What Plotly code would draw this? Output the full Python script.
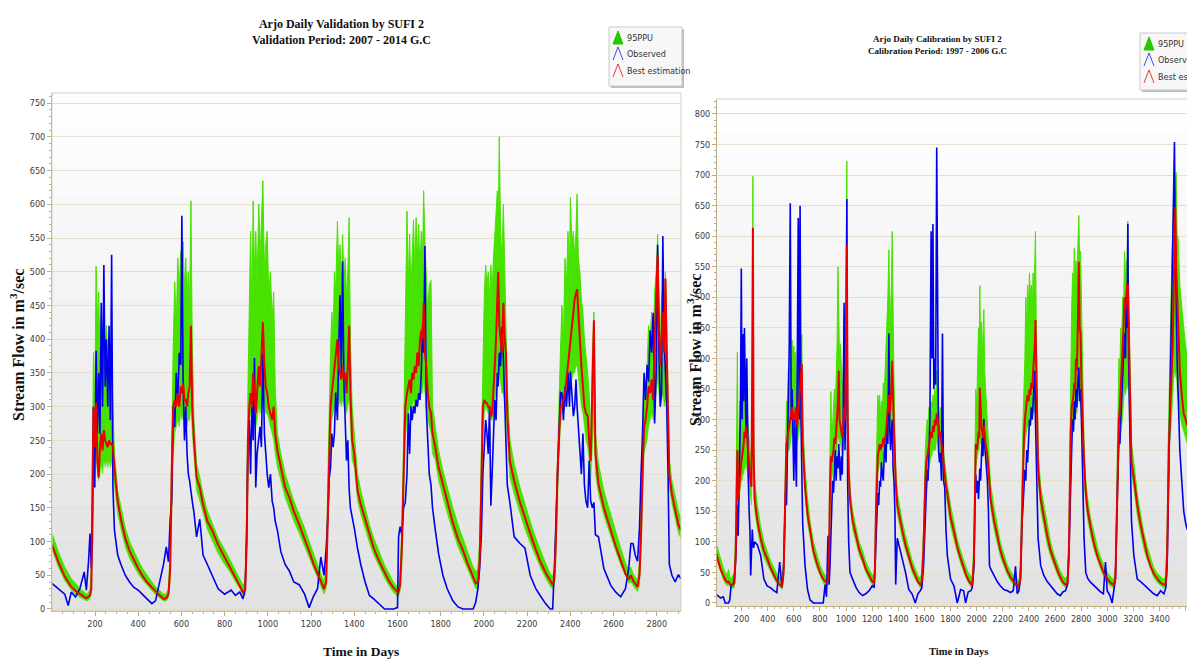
import plotly.graph_objects as go

# ---------------- Validation period 2007-2014 (daily stream flow, m3/s) ----------------
val_days = [1, 30, 60, 76, 90, 110, 130, 150, 160, 170, 177, 183, 188, 193, 199, 205, 211, 217, 223, 229,
            235, 241, 247, 253, 259, 265, 271, 277, 283, 290, 305, 320, 340, 360, 380, 400, 420, 440, 463, 480,
            500, 517, 530, 540, 548, 555, 562, 569, 576, 583, 590, 597, 602, 608, 614, 620, 626, 632, 638, 644,
            650, 658, 670, 685, 700, 720, 742, 770, 800, 830, 850, 870, 885, 895, 902, 908, 914, 920, 926, 932,
            938, 944, 950, 958, 964, 970, 977, 984, 990, 997, 1004, 1012, 1020, 1027, 1034, 1044, 1060, 1080, 1100, 1120,
            1145, 1170, 1191, 1210, 1230, 1245, 1260, 1270, 1278, 1284, 1290, 1296, 1302, 1308, 1314, 1322, 1328, 1334, 1340, 1346,
            1352, 1358, 1364, 1370, 1376, 1382, 1390, 1400, 1415, 1430, 1450, 1470, 1490, 1515, 1540, 1561, 1580, 1600, 1605, 1612,
            1620, 1628, 1636, 1644, 1650, 1656, 1662, 1668, 1674, 1680, 1686, 1692, 1698, 1704, 1710, 1716, 1721, 1727, 1733, 1740,
            1747, 1755, 1762, 1775, 1790, 1810, 1830, 1856, 1880, 1903, 1925, 1950, 1962, 1972, 1980, 1988, 1995, 2002, 2008, 2014,
            2020, 2026, 2032, 2038, 2044, 2050, 2056, 2062, 2066, 2071, 2077, 2083, 2090, 2096, 2102, 2108, 2120, 2140, 2167, 2190,
            2214, 2240, 2260, 2285, 2307, 2318, 2326, 2333, 2340, 2347, 2354, 2361, 2368, 2375, 2382, 2389, 2396, 2400, 2407, 2414,
            2420, 2426, 2431, 2437, 2444, 2451, 2458, 2465, 2472, 2480, 2487, 2494, 2502, 2509, 2516, 2530, 2555, 2587, 2610, 2633,
            2655, 2670, 2680, 2690, 2700, 2711, 2720, 2727, 2734, 2741, 2748, 2755, 2762, 2769, 2776, 2783, 2790, 2797, 2804, 2810,
            2816, 2822, 2828, 2834, 2840, 2846, 2852, 2858, 2870, 2885, 2900, 2911]
val_ppu_hi = [112, 85, 62, 52, 45, 38, 30, 25, 22, 24, 30, 60, 200, 380, 300, 508, 420, 470, 380, 430,
              360, 450, 380, 420, 360, 400, 330, 380, 300, 230, 175, 150, 120, 100, 85, 72, 60, 50, 40, 33,
              27, 22, 22, 30, 90, 250, 390, 485, 420, 520, 470, 530, 480, 545, 470, 520, 460, 500, 450, 605,
              400, 280, 215, 195, 170, 145, 128, 105, 88, 70, 58, 45, 35, 40, 150, 330, 470, 560, 450, 605,
              500, 560, 480, 600, 520, 580, 635, 500, 540, 560, 470, 500, 430, 470, 330, 260, 230, 200, 180, 160,
              140, 120, 100, 82, 65, 52, 40, 60, 200, 300, 380, 440, 400, 500, 470, 575, 500, 540, 480, 555,
              480, 520, 460, 500, 580, 400, 300, 260, 200, 175, 150, 125, 105, 85, 65, 52, 40, 32, 35, 60,
              120, 250, 400, 590, 480, 556, 470, 540, 577, 500, 580, 520, 570, 500, 560, 520, 620, 546, 500, 440,
              480, 487, 300, 270, 235, 205, 180, 150, 125, 105, 85, 62, 55, 60, 100, 250, 400, 470, 510, 480,
              500, 460, 510, 470, 520, 560, 600, 620, 560, 700, 560, 520, 600, 500, 450, 330, 250, 215, 180, 155,
              130, 105, 88, 68, 52, 48, 60, 150, 220, 300, 380, 450, 400, 520, 480, 560, 500, 610, 540, 560,
              520, 560, 615, 520, 500, 460, 440, 400, 380, 350, 320, 250, 380, 440, 260, 215, 175, 138, 115, 90,
              68, 58, 62, 52, 48, 42, 70, 150, 250, 330, 300, 380, 420, 400, 440, 380, 470, 500, 555, 450,
              400, 460, 480, 420, 500, 420, 300, 220, 190, 165, 145, 133]
val_ppu_lo = [88, 62, 42, 35, 28, 22, 17, 14, 12, 13, 15, 25, 120, 200, 220, 230, 200, 190, 200, 215,
              200, 220, 210, 220, 210, 220, 210, 220, 200, 180, 140, 118, 92, 75, 63, 52, 43, 35, 27, 21,
              16, 12, 12, 16, 40, 130, 220, 260, 270, 280, 270, 290, 280, 290, 280, 280, 270, 280, 280, 300,
              260, 220, 175, 160, 140, 118, 102, 82, 66, 52, 40, 30, 20, 20, 70, 200, 280, 290, 280, 300,
              280, 270, 280, 300, 290, 300, 320, 300, 290, 290, 280, 270, 260, 250, 230, 210, 190, 165, 148, 130,
              112, 92, 76, 60, 45, 33, 22, 30, 100, 180, 250, 280, 290, 300, 310, 320, 300, 310, 300, 310,
              300, 300, 290, 300, 310, 270, 220, 210, 160, 140, 118, 98, 80, 62, 46, 34, 25, 18, 18, 25,
              60, 150, 250, 280, 290, 300, 290, 300, 310, 300, 310, 310, 320, 310, 320, 320, 340, 320, 300, 280,
              270, 260, 230, 220, 190, 165, 142, 115, 92, 75, 58, 40, 30, 30, 50, 120, 250, 290, 300, 295,
              290, 290, 280, 280, 290, 310, 320, 340, 350, 350, 330, 320, 320, 300, 290, 250, 195, 170, 140, 118,
              98, 76, 62, 46, 33, 30, 35, 70, 150, 220, 270, 290, 290, 300, 300, 320, 320, 340, 340, 350,
              350, 360, 360, 340, 320, 300, 290, 270, 250, 240, 220, 190, 250, 280, 200, 170, 138, 105, 85, 65,
              48, 38, 40, 34, 30, 26, 35, 80, 160, 230, 240, 250, 270, 280, 290, 280, 300, 320, 340, 320,
              300, 310, 320, 300, 310, 290, 240, 180, 155, 132, 112, 105]
val_best = [95, 70, 48, 40, 33, 27, 22, 18, 16, 18, 20, 30, 160, 300, 240, 306, 220, 195, 240, 260,
            235, 265, 250, 245, 240, 250, 245, 245, 240, 209, 160, 133, 105, 86, 72, 60, 49, 40, 32, 26,
            20, 15, 16, 22, 60, 200, 300, 310, 300, 320, 300, 330, 320, 335, 310, 310, 300, 320, 330, 420,
            300, 250, 195, 180, 155, 130, 117, 95, 77, 60, 46, 35, 25, 28, 100, 250, 300, 320, 300, 350,
            310, 290, 320, 360, 330, 380, 425, 360, 330, 320, 300, 290, 280, 300, 260, 235, 210, 180, 165, 145,
            125, 105, 86, 68, 52, 40, 30, 40, 140, 230, 300, 320, 340, 350, 380, 400, 360, 350, 340, 360,
            340, 350, 320, 360, 420, 320, 250, 230, 175, 155, 132, 110, 90, 71, 54, 41, 32, 25, 25, 35,
            90, 200, 300, 320, 330, 340, 320, 350, 340, 360, 350, 380, 360, 400, 413, 400, 454, 380, 360, 320,
            300, 290, 260, 240, 210, 184, 158, 128, 104, 87, 67, 46, 38, 40, 70, 180, 300, 310, 306, 305,
            300, 300, 285, 290, 320, 360, 400, 450, 500, 420, 400, 380, 454, 400, 380, 290, 219, 190, 158, 134,
            112, 88, 71, 54, 41, 36, 45, 100, 200, 250, 300, 300, 310, 320, 340, 360, 380, 400, 420, 440,
            460, 470, 474, 440, 388, 360, 330, 300, 290, 286, 250, 219, 330, 428, 230, 185, 150, 115, 93, 72,
            52, 44, 50, 42, 38, 33, 50, 110, 200, 270, 280, 300, 330, 320, 340, 310, 400, 460, 525, 420,
            360, 400, 440, 380, 490, 380, 270, 200, 170, 145, 125, 117]
val_obs = [38, 30, 22, 5, 25, 18, 30, 55, 28, 70, 112, 60, 100, 298, 180, 383, 260, 350, 260, 454,
           300, 510, 330, 400, 300, 420, 280, 525, 180, 117, 80, 66, 50, 40, 32, 28, 22, 15, 8, 12,
           40, 66, 92, 70, 133, 160, 300, 270, 350, 310, 380, 362, 583, 330, 250, 300, 230, 200, 190, 170,
           160, 143, 107, 133, 80, 66, 50, 30, 22, 28, 20, 25, 15, 30, 110, 250, 280, 200, 300, 250,
           372, 180, 230, 250, 270, 240, 378, 260, 230, 200, 180, 200, 160, 150, 130, 117, 85, 66, 56, 40,
           36, 22, 2, 18, 30, 77, 50, 90, 140, 194, 209, 260, 240, 260, 321, 280, 388, 465, 350, 515,
           337, 280, 220, 250, 179, 150, 138, 120, 90, 66, 40, 20, 15, 8, 0, 0, 0, 2, 107, 122,
           110, 150, 158, 200, 290, 230, 300, 280, 301, 290, 310, 300, 320, 310, 350, 420, 380, 538, 300, 250,
           200, 184, 150, 117, 82, 50, 30, 12, 3, 0, 0, 0, 10, 30, 60, 110, 200, 250, 280, 260,
           230, 300, 153, 200, 270, 310, 280, 350, 330, 380, 360, 418, 372, 300, 260, 184, 158, 107, 97, 90,
           50, 30, 20, 8, 0, 0, 60, 120, 200, 260, 321, 320, 280, 330, 300, 350, 300, 352, 320, 286,
           300, 340, 300, 260, 235, 200, 260, 184, 160, 150, 220, 160, 150, 158, 110, 107, 60, 35, 25, 18,
           30, 60, 97, 97, 80, 71, 120, 200, 260, 350, 310, 362, 337, 413, 380, 439, 275, 350, 540, 380,
           300, 320, 553, 400, 350, 300, 200, 66, 50, 40, 51, 45]

# ---------------- Calibration period 1997-2006 (daily stream flow, m3/s) ----------------
cal_days = [1, 20, 40, 60, 75, 90, 100, 110, 120, 135, 145, 155, 162, 168, 174, 180, 186, 192, 198, 204,
            210, 216, 222, 228, 234, 240, 246, 252, 258, 264, 270, 276, 282, 287, 292, 300, 321, 346, 371, 396,
            420, 447, 470, 492, 510, 522, 530, 537, 544, 551, 558, 565, 573, 580, 587, 594, 600, 607, 614, 620,
            627, 634, 641, 648, 655, 661, 668, 686, 705, 724, 750, 774, 800, 825, 840, 850, 862, 870, 877, 884,
            890, 897, 904, 911, 918, 924, 931, 938, 944, 950, 957, 964, 971, 978, 985, 992, 999, 1006, 1012, 1020,
            1030, 1050, 1077, 1100, 1127, 1150, 1177, 1200, 1215, 1222, 1229, 1236, 1243, 1250, 1257, 1264, 1271, 1278, 1285, 1292,
            1299, 1306, 1313, 1320, 1328, 1335, 1341, 1347, 1353, 1360, 1367, 1374, 1380, 1392, 1410, 1429, 1455, 1480, 1505, 1530,
            1550, 1568, 1580, 1593, 1600, 1607, 1614, 1621, 1628, 1635, 1642, 1651, 1658, 1665, 1672, 1679, 1686, 1694, 1700, 1708,
            1715, 1722, 1730, 1738, 1746, 1755, 1765, 1775, 1800, 1826, 1851, 1877, 1900, 1915, 1935, 1955, 1966, 1979, 1986, 1993,
            2000, 2007, 2014, 2020, 2024, 2030, 2036, 2042, 2048, 2055, 2061, 2068, 2075, 2082, 2090, 2098, 2106, 2130, 2157, 2180,
            2208, 2235, 2259, 2280, 2297, 2310, 2323, 2335, 2342, 2348, 2355, 2362, 2369, 2376, 2383, 2390, 2397, 2404, 2411, 2418,
            2425, 2432, 2439, 2445, 2450, 2456, 2462, 2470, 2490, 2514, 2540, 2565, 2591, 2616, 2640, 2660, 2680, 2695, 2706, 2713,
            2720, 2727, 2734, 2741, 2747, 2754, 2760, 2767, 2774, 2782, 2788, 2795, 2802, 2808, 2815, 2822, 2835, 2850, 2871, 2900,
            2925, 2948, 2970, 2986, 2999, 3020, 3037, 3050, 3062, 3069, 3075, 3082, 3089, 3096, 3103, 3110, 3117, 3124, 3132, 3139,
            3145, 3151, 3157, 3163, 3170, 3177, 3185, 3203, 3229, 3255, 3280, 3305, 3331, 3355, 3382, 3408, 3433, 3448, 3458, 3465,
            3472, 3479, 3486, 3493, 3500, 3507, 3514, 3520, 3527, 3534, 3541, 3555, 3570, 3585, 3600, 3612]
cal_ppu_hi = [100, 85, 70, 58, 50, 45, 55, 42, 40, 45, 50, 120, 250, 410, 200, 280, 330, 300, 360, 320,
              380, 330, 390, 340, 370, 320, 300, 280, 260, 250, 240, 230, 450, 698, 300, 200, 160, 125, 100, 85,
              70, 58, 48, 42, 38, 70, 160, 280, 330, 310, 380, 340, 400, 360, 430, 380, 420, 390, 410, 360,
              350, 380, 400, 420, 400, 440, 300, 220, 170, 135, 100, 80, 62, 50, 44, 42, 50, 120, 250, 346,
              260, 300, 330, 350, 320, 380, 420, 550, 475, 400, 424, 380, 350, 380, 420, 360, 450, 723, 350, 250,
              190, 150, 125, 100, 85, 68, 55, 46, 44, 90, 200, 300, 340, 320, 340, 300, 330, 310, 360, 340,
              380, 400, 450, 500, 578, 450, 480, 520, 608, 420, 360, 280, 220, 180, 155, 135, 110, 88, 70, 56,
              45, 40, 50, 120, 200, 250, 280, 300, 290, 320, 300, 330, 310, 340, 320, 350, 330, 380, 340, 320,
              300, 320, 290, 270, 250, 230, 210, 195, 160, 130, 105, 85, 68, 60, 50, 42, 40, 100, 250, 350,
              320, 400, 450, 400, 519, 420, 460, 400, 430, 480, 380, 350, 330, 300, 260, 220, 195, 160, 125, 100,
              80, 62, 52, 45, 40, 38, 36, 60, 150, 250, 300, 350, 400, 500, 450, 520, 480, 540, 500, 520,
              480, 540, 500, 560, 608, 450, 350, 250, 190, 160, 125, 100, 80, 65, 52, 44, 40, 45, 120, 250,
              400, 480, 540, 500, 580, 520, 560, 520, 580, 634, 560, 575, 500, 440, 350, 260, 200, 170, 140, 110,
              90, 75, 62, 55, 50, 44, 40, 38, 60, 150, 250, 330, 400, 380, 450, 420, 500, 480, 575, 520,
              560, 540, 625, 520, 450, 350, 260, 230, 180, 145, 115, 92, 72, 58, 48, 42, 38, 45, 120, 250,
              350, 400, 480, 550, 600, 650, 700, 660, 704, 600, 600, 520, 480, 450, 420, 400]
cal_ppu_lo = [75, 62, 48, 38, 32, 28, 30, 26, 25, 24, 25, 60, 130, 180, 150, 160, 180, 190, 200, 200,
              210, 210, 220, 220, 230, 220, 210, 200, 190, 180, 170, 160, 250, 400, 200, 150, 120, 92, 74, 62,
              50, 40, 32, 27, 22, 40, 90, 180, 230, 240, 250, 250, 260, 270, 280, 270, 280, 270, 280, 270,
              260, 270, 280, 290, 290, 300, 240, 170, 130, 105, 75, 58, 44, 33, 28, 27, 28, 60, 140, 190,
              200, 210, 220, 230, 230, 240, 250, 270, 270, 260, 260, 250, 240, 250, 270, 260, 300, 400, 250, 190,
              155, 120, 98, 78, 64, 50, 38, 30, 28, 45, 100, 170, 210, 220, 230, 220, 230, 225, 240, 240,
              250, 250, 260, 270, 290, 280, 290, 300, 320, 280, 250, 210, 170, 145, 122, 105, 85, 66, 50, 38,
              30, 25, 28, 60, 120, 150, 190, 200, 210, 220, 230, 240, 240, 250, 250, 250, 250, 270, 260, 250,
              240, 240, 230, 220, 200, 185, 170, 160, 125, 102, 82, 64, 50, 42, 33, 26, 24, 50, 130, 220,
              230, 240, 250, 250, 270, 260, 260, 250, 250, 260, 250, 240, 230, 220, 200, 175, 155, 122, 96, 76,
              60, 45, 36, 30, 26, 24, 22, 30, 70, 140, 200, 240, 260, 270, 280, 290, 290, 300, 300, 310,
              300, 310, 310, 320, 340, 300, 260, 200, 150, 125, 95, 76, 60, 47, 36, 29, 25, 26, 60, 150,
              240, 270, 280, 290, 300, 300, 320, 310, 330, 350, 330, 320, 300, 280, 250, 200, 160, 135, 110, 85,
              68, 55, 44, 38, 34, 28, 25, 24, 30, 70, 150, 220, 250, 260, 280, 290, 300, 320, 350, 340,
              350, 350, 360, 340, 300, 260, 210, 185, 142, 112, 88, 70, 54, 42, 33, 28, 24, 26, 60, 150,
              220, 260, 280, 300, 330, 360, 380, 370, 380, 350, 330, 310, 290, 280, 270, 260]
cal_best = [85, 70, 55, 45, 38, 34, 35, 31, 30, 30, 32, 80, 170, 250, 170, 180, 200, 220, 230, 240,
            250, 260, 280, 270, 290, 280, 260, 240, 220, 210, 200, 190, 400, 614, 250, 170, 135, 106, 85, 73,
            58, 45, 36, 30, 27, 50, 120, 220, 260, 270, 280, 290, 300, 310, 320, 300, 310, 300, 320, 300,
            290, 310, 330, 340, 360, 391, 260, 190, 145, 117, 85, 67, 50, 39, 35, 34, 38, 80, 190, 240,
            230, 240, 250, 270, 260, 280, 300, 330, 380, 300, 290, 280, 270, 290, 320, 300, 400, 586, 300, 220,
            170, 135, 110, 88, 72, 56, 45, 35, 33, 60, 150, 220, 240, 250, 260, 250, 260, 255, 270, 260,
            270, 280, 300, 320, 340, 310, 330, 350, 396, 320, 280, 240, 200, 160, 138, 120, 95, 75, 58, 45,
            35, 30, 35, 90, 160, 200, 230, 240, 250, 260, 270, 280, 270, 290, 280, 300, 290, 310, 300, 290,
            270, 280, 260, 250, 230, 210, 190, 180, 140, 117, 92, 73, 56, 48, 38, 30, 28, 70, 200, 260,
            250, 260, 280, 270, 352, 300, 290, 280, 270, 290, 270, 260, 250, 240, 220, 190, 170, 138, 110, 87,
            68, 52, 42, 35, 31, 29, 28, 40, 100, 180, 240, 270, 300, 320, 330, 340, 330, 350, 340, 360,
            350, 380, 400, 420, 463, 380, 300, 220, 170, 140, 110, 86, 68, 54, 42, 34, 30, 32, 80, 200,
            280, 320, 330, 340, 360, 350, 400, 380, 450, 558, 450, 441, 360, 320, 280, 230, 180, 150, 125, 95,
            76, 62, 50, 44, 40, 34, 31, 30, 40, 100, 200, 260, 300, 320, 350, 370, 400, 450, 500, 480,
            500, 520, 520, 460, 380, 300, 230, 205, 160, 128, 100, 78, 60, 48, 40, 33, 30, 32, 80, 200,
            260, 300, 330, 380, 420, 500, 600, 648, 550, 500, 450, 380, 340, 310, 300, 290]
cal_obs = [15, 12, 8, 10, 0, 0, 0, 5, 28, 30, 40, 70, 130, 160, 110, 200, 260, 320, 547, 300,
           440, 330, 450, 350, 280, 400, 250, 200, 150, 120, 45, 100, 120, 100, 90, 100, 95, 78, 39, 28,
           25, 20, 17, 67, 25, 60, 110, 180, 160, 250, 350, 420, 654, 300, 350, 250, 200, 300, 240, 190,
           400, 630, 300, 650, 300, 200, 130, 61, 22, 5, 0, 0, 0, 0, 30, 10, 110, 30, 60, 120,
           150, 200, 180, 220, 250, 200, 240, 220, 260, 230, 200, 240, 210, 300, 491, 250, 350, 661, 200, 100,
           50, 39, 25, 17, 12, 15, 20, 28, 25, 61, 100, 150, 180, 160, 200, 190, 230, 210, 200, 240,
           260, 230, 296, 260, 441, 280, 250, 280, 300, 220, 200, 150, 30, 106, 90, 78, 50, 22, 15, 0,
           15, 20, 25, 60, 100, 134, 170, 218, 200, 250, 300, 608, 400, 620, 350, 400, 357, 745, 400, 250,
           230, 245, 200, 441, 200, 190, 120, 78, 39, 28, 0, 22, 20, 0, 18, 20, 25, 60, 150, 210,
           180, 200, 170, 200, 220, 200, 250, 270, 240, 301, 260, 240, 220, 200, 150, 61, 56, 45, 35, 28,
           22, 20, 17, 20, 60, 15, 20, 40, 100, 134, 160, 200, 218, 200, 250, 230, 280, 300, 290, 320,
           300, 330, 340, 380, 300, 250, 162, 106, 61, 45, 35, 28, 22, 15, 12, 18, 20, 30, 80, 150,
           220, 250, 300, 280, 330, 300, 350, 320, 360, 385, 330, 350, 300, 250, 200, 106, 50, 40, 34, 28,
           22, 18, 15, 67, 20, 12, 0, 20, 40, 100, 180, 220, 280, 260, 300, 340, 380, 420, 441, 400,
           500, 450, 620, 400, 300, 200, 134, 78, 39, 35, 30, 25, 20, 15, 12, 20, 15, 25, 60, 150,
           250, 350, 450, 500, 636, 700, 754, 600, 450, 400, 350, 250, 200, 150, 130, 120]

# ---------------- axis ticks ----------------
val_xticks = [200, 400, 600, 800, 1000, 1200, 1400, 1600, 1800, 2000, 2200, 2400, 2600, 2800]
val_yticks = [0, 50, 100, 150, 200, 250, 300, 350, 400, 450, 500, 550, 600, 650, 700, 750]
cal_xticks = [200, 400, 600, 800, 1000, 1200, 1400, 1600, 1800, 2000, 2200, 2400, 2600, 2800, 3000, 3200, 3400, 3600]
cal_yticks = [0, 50, 100, 150, 200, 250, 300, 350, 400, 450, 500, 550, 600, 650, 700, 750, 800]

W, H = 1187, 659
GREEN = "rgb(72,226,0)"
BLUE = "rgb(0,0,235)"
RED = "rgb(235,0,0)"
AXIS = "#bdae86"
GRID = "#e4dfcf"
TICKFONT = dict(family="Liberation Sans Narrow, DejaVu Sans Condensed, Liberation Sans, Arial", size=9, color="#3a3a3a")
SERIF = "Liberation Serif, Times New Roman, serif"


def fx(p):
    return p / W


def fy(p):
    return 1 - p / H


fig = go.Figure()


def add_panel(days, hi, lo, best, obs, xa, ya):
    common = dict(xaxis=xa, yaxis=ya, hoverinfo="skip", showlegend=False, mode="lines")
    fig.add_trace(go.Scatter(x=days, y=lo, line=dict(width=0.5, color=GREEN), **common))
    fig.add_trace(go.Scatter(x=days, y=hi, fill="tonexty", fillcolor=GREEN,
                             line=dict(width=1, color=GREEN), **common))
    fig.add_trace(go.Scatter(x=days, y=obs, line=dict(width=1.6, color=BLUE), **common))
    fig.add_trace(go.Scatter(x=days, y=best, line=dict(width=2, color=RED), **common))


add_panel(val_days, val_ppu_hi, val_ppu_lo, val_best, val_obs, "x", "y")
add_panel(cal_days, cal_ppu_hi, cal_ppu_lo, cal_best, cal_obs, "x2", "y2")

# panel frames in pixels: (left, right, top, bottom)
left_box = (52, 681, 93, 611)
right_box = (717, 1187, 99, 606)


def axis_pair(box, xr, yr, xt, yt):
    l, r, t, b = box
    xa = dict(domain=[fx(l), fx(r)], range=xr, tickvals=xt, ticks="outside", ticklen=4,
              tickcolor=AXIS, showline=True, linecolor=AXIS, linewidth=1, showgrid=False,
              zeroline=False, tickfont=TICKFONT, fixedrange=True,
              minor=dict(ticks="outside", ticklen=2, dtick=50, tickcolor=AXIS, showgrid=False))
    ya = dict(domain=[fy(b), fy(t)], range=yr, tickvals=yt, ticks="outside", ticklen=4,
              tickcolor=AXIS, showline=True, linecolor=AXIS, linewidth=1, showgrid=True,
              gridcolor=GRID, gridwidth=1, zeroline=False, tickfont=TICKFONT, fixedrange=True,
              minor=dict(ticks="outside", ticklen=2, dtick=10, tickcolor=AXIS, showgrid=False))
    return xa, ya


xa1, ya1 = axis_pair(left_box, [1, 2912], [-3, 765], val_xticks, val_yticks)
xa2, ya2 = axis_pair(right_box, [12, 3610], [-5, 824.5], cal_xticks, cal_yticks)
ya2["anchor"] = "x2"
xa2["anchor"] = "y2"

shapes = []
# soft vertical shading of each plotting area (white at top, light grey at bottom)
N = 30
for xr_, yr_ in (("x domain", "y domain"), ("x2 domain", "y2 domain")):
    for i in range(N):
        f = (i + 0.5) / N
        g = int(round(225 + (255 - 225) * f))
        shapes.append(dict(type="rect", xref=xr_, yref=yr_, x0=0, x1=1, y0=i / N, y1=(i + 1) / N + 0.002,
                           fillcolor=f"rgb({g},{g},{g})", line=dict(width=0), layer="below"))
# outer frame lines
shapes.append(dict(type="rect", xref="x domain", yref="y domain", x0=0, x1=1, y0=0, y1=1,
                   line=dict(color="#d6cfbb", width=1), layer="above"))
shapes.append(dict(type="line", xref="x2 domain", yref="y2 domain", x0=0, x1=1, y0=1, y1=1,
                   line=dict(color="#d6cfbb", width=1), layer="above"))

annotations = []


def text_at(x, y, text, font, angle=0, xanchor="center"):
    annotations.append(dict(x=fx(x), y=fy(y), xref="paper", yref="paper", text=text, showarrow=False,
                            xanchor=xanchor, yanchor="middle", textangle=angle, font=font, align="center"))


def legend_box(l, t, r, b, rows):
    # shadow, then box
    shapes.append(dict(type="rect", xref="paper", yref="paper", x0=fx(l + 2), x1=fx(r + 2), y0=fy(b + 2), y1=fy(t + 2),
                       fillcolor="#bdbdbd", line=dict(width=0)))
    shapes.append(dict(type="rect", xref="paper", yref="paper", x0=fx(l), x1=fx(r), y0=fy(b), y1=fy(t),
                       fillcolor="#f7f7f7", line=dict(color="#c9c9c9", width=1)))
    for (yc, label, color, filled) in rows:
        x0, x1, xm = l + 4, l + 14, l + 9
        path = f"M {fx(x0)},{fy(yc + 6)} L {fx(xm)},{fy(yc - 7)} L {fx(x1)},{fy(yc + 6)}"
        if filled:
            shapes.append(dict(type="path", xref="paper", yref="paper", path=path + " Z",
                               fillcolor=color, line=dict(color=color, width=1)))
        else:
            shapes.append(dict(type="path", xref="paper", yref="paper", path=path,
                               line=dict(color=color, width=1)))
        text_at(l + 16, yc, label, dict(family=TICKFONT["family"], size=9, color="#333333"), xanchor="left")


legend_box(609, 27, 682, 86, [(38, "95PPU", "rgb(40,200,0)", True),
                               (54, "Observed", "rgb(70,70,235)", False),
                               (71, "Best estimation", "rgb(230,60,60)", False)])
legend_box(1140, 33, 1200, 90, [(44, "95PPU", "rgb(40,200,0)", True),
                                 (60, "Observed", "rgb(70,70,235)", False),
                                 (77, "Best estimation", "rgb(230,60,60)", False)])

# titles
text_at(341, 32, "<b>Arjo Daily Validation by SUFI 2<br>Validation Period: 2007 - 2014 G.C</b>",
        dict(family=SERIF, size=12, color="#111111"))
text_at(937, 45, "<b>Arjo Daily Calibration by SUFI 2<br>Calibration Period: 1997 - 2006 G.C</b>",
        dict(family=SERIF, size=9, color="#111111"))
# axis titles
for xc, yc in ((17, 345), (694, 350)):
    text_at(xc, yc, "<b>Stream Flow in m<sup>3</sup>/sec</b>",
            dict(family=SERIF, size=16, color="#111111"), angle=-90)
text_at(361, 651, "<b>Time in Days</b>", dict(family=SERIF, size=13.5, color="#111111"))
text_at(958, 651, "<b>Time in Days</b>", dict(family=SERIF, size=10.5, color="#111111"))

fig.update_layout(
    width=W, height=H,
    margin=dict(l=0, r=0, t=0, b=0, autoexpand=False),
    paper_bgcolor="white", plot_bgcolor="white",
    xaxis=xa1, yaxis=ya1, xaxis2=xa2, yaxis2=ya2,
    shapes=shapes, annotations=annotations,
    showlegend=False,
)

fig.write_html("out.html")
